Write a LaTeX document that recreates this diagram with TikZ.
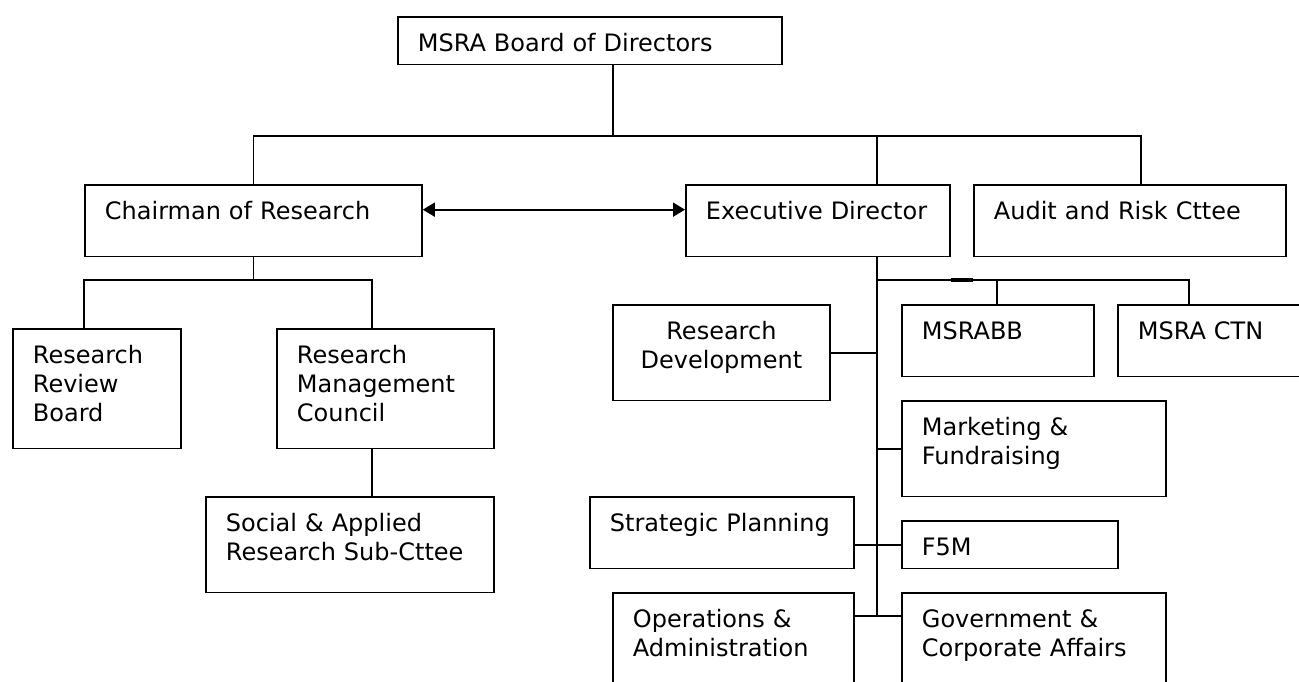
\documentclass[tikz,border=0pt]{standalone}
\usepackage{fontspec}
\setmainfont{DejaVu Sans}
\usetikzlibrary{arrows.meta}

\tikzset{
  plainunit/.style 2 args={draw, anchor=north west, inner sep=0pt,
    font=\fontsize{12}{14.5}\selectfont,
    text width=#1, text height=17.25pt, text depth=#2},
  unit/.style 2 args={plainunit={#1}{#2}, align=left,
    execute at begin node={\leftskip=10pt}},
}

\begin{document}
\begin{tikzpicture}[>={Triangle[length=6pt,width=7pt]}, x=0.5pt, y=-0.5pt, line width=0.9pt]
\clip (0,0) rectangle (1299,681);

% top levels
\node[unit={192pt}{6.5pt}] (board) at (397,16){MSRA Board of Directors};
\node[unit={168.5pt}{18.5pt}] (chair) at (84,184){Chairman of Research};
\node[unit={132pt}{18.5pt}] (exec) at (685,184){Executive Director};
\node[unit={156pt}{18.5pt}] (audit) at (973,184){Audit and Risk Cttee};

% research side
\node[unit={84pt}{42.5pt}] (rrb) at (12,328){Research\\Review\\Board};
\node[unit={108.5pt}{42.5pt}] (rmc) at (276,328){Research\\Management\\Council};
\node[unit={144pt}{30.5pt}] (sars) at (205,496){Social \& Applied\\Research Sub-Cttee};

% executive side
\node[plainunit={108.5pt}{30.5pt}, align=center] (resdev) at (612,304){Research\\Development};
\node[unit={96pt}{18.5pt}] (msrabb) at (901,304){MSRABB};
\node[unit={96.5pt}{18.5pt}] (ctn) at (1117,304){MSRA CTN};
\node[unit={132pt}{30.5pt}] (mkt) at (901,400){Marketing \&\\Fundraising};
\node[unit={132pt}{18.5pt}] (strat) at (589,496){Strategic Planning};
\node[unit={108pt}{6.5pt}] (f5m) at (901,520){F5M};
\node[unit={120.5pt}{36.5pt}] (ops) at (612,592){Operations \&\\Administration};
\node[unit={132pt}{36.5pt}] (gov) at (901,592){Government \&\\Corporate Affairs};

\coordinate (b0) at (613,136);
\coordinate (e0) at (877,136);
\coordinate (a0) at (1141,136);
\coordinate (c1) at (84,280);
\coordinate (c2) at (372,280);
\coordinate (e1) at (877,280);
\coordinate (m1) at (997,280);
\coordinate (m2) at (1189,280);
\coordinate (e9) at (877,616);

\draw (board.south -| b0) -- (b0);
\draw (chair.north) |- (a0) -- (audit.north -| a0);
\draw (e0) -- (exec.north -| e0);
\draw[<->] ([yshift=5.5pt]chair.east) -- ([yshift=5.5pt]exec.west);

\draw (chair.south) -- (chair.south |- c1);
\draw (rrb.north -| c1) |- (c2) -- (rmc.north -| c2);
\draw (rmc.south -| c2) -- (sars.north -| c2);

\draw (exec.south -| e0) -- (e9);
\draw (e1) -| (ctn.north -| m2);
\draw (m1) -- (msrabb.north -| m1);
\draw[line width=1.6pt] (exec.south east |- e1) -- (audit.south west |- e1);
\draw (resdev.east) -- (resdev.east -| e0);
\draw (mkt.west) -- (mkt.west -| e0);
\draw (strat.east |- f5m.west) -- (f5m.west);
\draw (ops.east |- e9) -- (gov.west |- e9);
\end{tikzpicture}
\end{document}
